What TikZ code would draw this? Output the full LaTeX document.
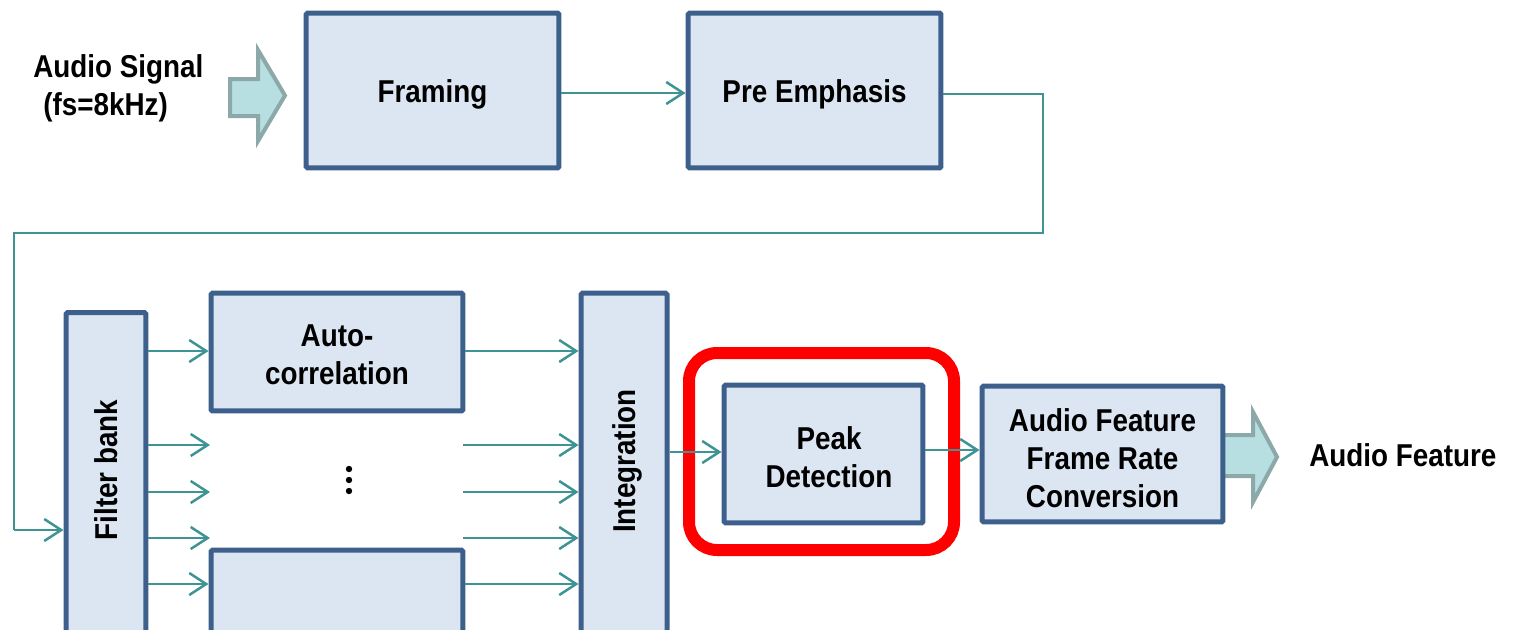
\documentclass[tikz,border=0pt]{standalone}
\usepackage{fontspec}
\setmainfont{Liberation Sans}[FakeStretch=0.88]
\usetikzlibrary{arrows.meta}

\definecolor{boxfill}{HTML}{DCE6F2}
\definecolor{boxline}{HTML}{3C5F8C}
\definecolor{wire}{HTML}{3E9494}
\definecolor{bigfill}{HTML}{B7DEE0}
\definecolor{bigline}{HTML}{8CA8A8}
\definecolor{mark}{HTML}{FF0000}

\tikzset{
  blockbox/.style={draw=boxline, fill=boxfill, line width=0.1cm,
    rounded corners=0.03cm, inner sep=0pt},
  lbl/.style={font=\bfseries\fontsize{18pt}{21.5pt}\selectfont,
    align=center, inner sep=0pt},
  conn/.style={draw=wire, line width=0.04cm,
    -{Straight Barb[length=0.34cm, width=0.44cm, line width=0.05cm]}},
  fatarrow/.style={draw=bigline, fill=bigfill, line width=0.08cm, line join=miter},
  highlight/.style={draw=mark, line width=0.24cm, rounded corners=0.56cm},
}

\begin{document}
\begin{tikzpicture}[x=0.02cm, y=-0.02cm]
\useasboundingbox (0,0) rectangle (1513,629);
\clip (0,0) rectangle (1513,629);

% input signal and its block arrow
\node[lbl, align=left, anchor=west] (insig) at (33,88) {Audio Signal\\\hspace{0.2cm}(fs=8kHz)};
\draw[fatarrow] (230,79) -- (258,79) -- (258,50) -- (285,95.5)
  -- (258,141) -- (258,116) -- (230,116) -- cycle;

% top row
\node[blockbox, minimum width=5.06cm, minimum height=3.1cm] (fr) at (432.5,90.5) {};
\node[lbl] (frt) at (432.5,94) {Framing};
\node[blockbox, minimum width=5.06cm, minimum height=3.1cm] (pe) at (814.5,90.5) {};
\node[lbl] (pet) at (814.5,94) {Pre Emphasis};

% output block arrow (drawn under the last box)
\draw[fatarrow] (1218,435) -- (1253,435) -- (1253,412) -- (1277,457)
  -- (1253,502) -- (1253,476) -- (1218,476) -- cycle;

% bottom row
\node[blockbox, minimum width=1.6cm, minimum height=7.74cm] (fb) at (106,506) {};
\node[lbl, rotate=90] (fbt) at (106,470) {Filter bank};

\node[blockbox, minimum width=5.04cm, minimum height=2.36cm] (ac) at (337,352) {};
\node[lbl] (act) at (337,355) {Auto-\\correlation};
\node[blockbox, minimum width=5.04cm, minimum height=3.0cm] (bb) at (337,625) {};

\node[blockbox, minimum width=1.72cm, minimum height=8.14cm] (ig) at (624,496.5) {};
\node[lbl, rotate=90] (igt) at (627,461) {Integration};

\node[blockbox, minimum width=3.98cm, minimum height=2.76cm] (pk) at (823.5,454) {};
\node[lbl] (pkt) at (829,457) {Peak\\Detection};

\node[blockbox, minimum width=4.82cm, minimum height=2.72cm] (af) at (1102.5,454) {};
\node[lbl] (aft) at (1102.5,458) {Audio Feature\\Frame Rate\\Conversion};

\node[lbl, anchor=west] (outsig) at (1309,455) {Audio Feature};

% highlight round the peak detection stage
\draw[highlight] (689,353) rectangle (954,550);

% elided channels
\fill (349,469) circle (3.2);
\fill (349,480) circle (3.2);
\fill (349,491) circle (3.2);

% wiring
\draw[conn] (fr.east |- 0,93) -- (pe.west |- 0,93);

\coordinate (turnR) at (1043,233);
\coordinate (turnL) at (14,233);
\coordinate (fbin) at (14,530);
\draw[conn, -] (pe.east |- 0,94) -| (turnR) -- (turnL) -- (fbin);
\draw[conn] (fbin) -- (fb.west |- fbin);

% filter bank outputs
\coordinate (b2) at (210,445);
\coordinate (b3) at (210,492);
\coordinate (b4) at (210,538);
\draw[conn] (fb.east |- 0,351) -- (ac.west |- 0,351);
\draw[conn] (fb.east |- b2) -- (b2);
\draw[conn] (fb.east |- b3) -- (b3);
\draw[conn] (fb.east |- b4) -- (b4);
\draw[conn] (fb.east |- 0,584) -- (bb.west |- 0,584);

% inputs of the integration stage
\coordinate (c2) at (463,445);
\coordinate (c3) at (463,492);
\coordinate (c4) at (463,538);
\draw[conn] (ac.east |- 0,351) -- (ig.west |- 0,351);
\draw[conn] (c2) -- (ig.west |- c2);
\draw[conn] (c3) -- (ig.west |- c3);
\draw[conn] (c4) -- (ig.west |- c4);
\draw[conn] (bb.east |- 0,584) -- (ig.west |- 0,584);

\draw[conn] (ig.east |- 0,452) -- (pk.west |- 0,452);
\draw[conn] (pk.east |- 0,450) -- (af.west |- 0,450);
\end{tikzpicture}
\end{document}
